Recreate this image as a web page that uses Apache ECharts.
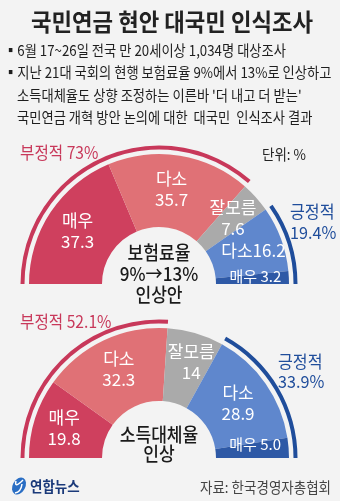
<!DOCTYPE html>
<html>
<head>
<meta charset="utf-8">
<script src="https://cdn.jsdelivr.net/npm/echarts@6/dist/echarts.min.js"></script>
<style>
  html, body { margin: 0; padding: 0; background: #f3f3f3; }
  #chart { width: 340px; height: 501px; }
</style>
</head>
<body>
<div id="chart"></div>
<script>
// Survey categories (left to right along each half ring)
const categories = ['매우', '다소', '잘모름', '다소', '매우'];
// 보험료율 9%→13% 인상안 (%)
const premiumValues = ['37.3', '35.7', '7.6', '16.2', '3.2'];
// 소득대체율 인상 (%)
const replacementValues = ['19.8', '32.3', '14', '28.9', '5.0'];
// which slices count as negative / positive
const negativeIdx = [0, 1];
const positiveIdx = [3, 4];

const titleText = '국민연금 현안 대국민 인식조사';
const noteLines = [
  '▪6월 17~26일 전국 만 20세이상 1,034명 대상조사',
  '▪지난 21대 국회의 현행 보험료율 9%에서 13%로 인상하고',
  '소득대체율도 상향 조정하는 이른바 \'더 내고 더 받는\'',
  '국민연금 개혁 방안 논의에 대한  대국민  인식조사 결과'
];
const unitText = '단위: %';
const sourceText = '자료: 한국경영자총협회';

const sliceColors = ['#cf405e', '#e07176', '#aaaaaa', '#5f87cd', '#2e59a6'];
const negColor = '#c8385a';
const posColor = '#1f4d9b';
const FONT = '"Noto Sans CJK KR", "Noto Sans", sans-serif';

const sum = (vals, idx) => idx.reduce((s, i) => s + Number(vals[i]), 0);

function ring(vals, cy, inlineFlags, smallFlags, labelShift) {
  const cx = 159;
  const data = vals.map((v, i) => ({
    name: categories[i],
    value: Number(v),
    itemStyle: { color: sliceColors[i] },
    label: {
      formatter: inlineFlags[i] ? categories[i] + (i === 4 ? ' ' : '') + v : categories[i] + '\n' + v,
      fontSize: smallFlags[i] ? 15 : 17,
      lineHeight: 21
    }
  }));
  const neg = sum(vals, negativeIdx);
  const pos = sum(vals, positiveIdx);
  const base = {
    type: 'pie', center: [cx, cy], startAngle: 180, endAngle: 0,
    silent: true, animation: false
  };
  return [
    Object.assign({}, base, {
      radius: [57, 130],
      data: data,
      label: {
        show: true, position: 'inside', color: '#fff', fontFamily: FONT
      },
      labelLayout: (p) => ({ dx: labelShift[p.dataIndex][0], dy: labelShift[p.dataIndex][1] }),
      labelLine: { show: false }
    }),
    Object.assign({}, base, {
      radius: [134.5, 138.5],
      label: { show: false },
      data: [
        { value: neg, itemStyle: { color: negColor } },
        { value: 100 - neg, itemStyle: { color: 'transparent' } }
      ]
    }),
    Object.assign({}, base, {
      radius: [134.5, 138.5],
      label: { show: false },
      data: [
        { value: 100 - pos, itemStyle: { color: 'transparent' } },
        { value: pos, itemStyle: { color: posColor } }
      ]
    })
  ];
}

const fmtPct = (x) => (Math.round(x * 10) / 10).toString() + '%';
const neg1 = sum(premiumValues, negativeIdx), pos1 = sum(premiumValues, positiveIdx);
const neg2 = sum(replacementValues, negativeIdx), pos2 = sum(replacementValues, positiveIdx);

function txt(x, y, text, size, color, opts) {
  opts = opts || {};
  return {
    type: 'text', x: x, y: y, scaleX: opts.sx || 1, originX: 0, originY: 0,
    style: {
      text: text, fill: color, fontSize: size, fontFamily: FONT,
      fontWeight: opts.weight || 'normal',
      textAlign: opts.align || 'left', textVerticalAlign: 'middle',
      lineHeight: opts.lh || size * 1.2
    }
  };
}

const graphics = [
  txt(172, 22, titleText, 24, '#222', { align: 'center', weight: 'bold', sx: 0.93 }),
  txt(4, 50, noteLines[0], 15, '#1e1e1e', { sx: 0.885 }),
  txt(4, 72, noteLines[1], 15, '#1e1e1e', { sx: 0.885 }),
  txt(17, 95, noteLines[2], 15, '#1e1e1e', { sx: 0.885 }),
  txt(17, 117, noteLines[3], 15, '#1e1e1e', { sx: 0.885 }),
  txt(262, 154, unitText, 15, '#222', { sx: 0.9 }),
  // chart 1 side notes
  txt(20, 153, '부정적 ' + fmtPct(neg1), 17, negColor, { sx: 0.92 }),
  txt(290, 222, '긍정적\n' + fmtPct(pos1), 17, posColor, { sx: 0.95, lh: 21 }),
  txt(159, 274, '보험료율\n9%→13%\n인상안', 19, '#1a1a1a', { align: 'center', weight: 500, sx: 0.9, lh: 21 }),
  // chart 2 side notes
  txt(20, 322, '부정적 ' + fmtPct(neg2), 17, negColor, { sx: 0.92 }),
  txt(278, 372, '긍정적\n' + fmtPct(pos2), 17, posColor, { sx: 0.95, lh: 20 }),
  txt(159, 444, '소득대체율\n인상', 19, '#1a1a1a', { align: 'center', weight: 500, sx: 0.9, lh: 19 }),
  // footer logo
  {
    type: 'circle', x: 19, y: 486, rotation: -0.5, scaleX: 0.7, scaleY: 1,
    shape: { cx: 0, cy: 0, r: 9 },
    style: { fill: '#2a6ec4' }
  },
  {
    type: 'bezierCurve',
    shape: { x1: 16, y1: 481, cpx1: 14, cpy1: 489, x2: 23, y2: 480 },
    style: { fill: 'none', stroke: '#fff', lineWidth: 1.5 }
  },
  {
    type: 'bezierCurve',
    shape: { x1: 22, y1: 484, cpx1: 21, cpy1: 492, x2: 15, y2: 493 },
    style: { fill: 'none', stroke: '#fff', lineWidth: 1.5 }
  },
  txt(30, 486, '연합뉴스', 15, '#1b3a7a', { weight: 'bold', sx: 0.9 }),
  txt(200, 487, sourceText, 15, '#444', { sx: 0.9 })
];

const chart = echarts.init(document.getElementById('chart'), null, { renderer: 'canvas' });
chart.setOption({
  backgroundColor: '#f3f3f3',
  animation: false,
  graphic: graphics,
  series: [].concat(
    ring(premiumValues, 284,
      [false, false, false, true, true], [false, false, false, false, true],
      [[-1, 0], [-3, 0], [2, -2], [4, 0], [0, -3]]),
    ring(replacementValues, 458,
      [false, false, false, false, true], [false, false, false, false, true],
      [[-3, 0], [1, -2], [5, -3], [0, 0], [0, -6]])
  )
});
</script>
</body>
</html>
